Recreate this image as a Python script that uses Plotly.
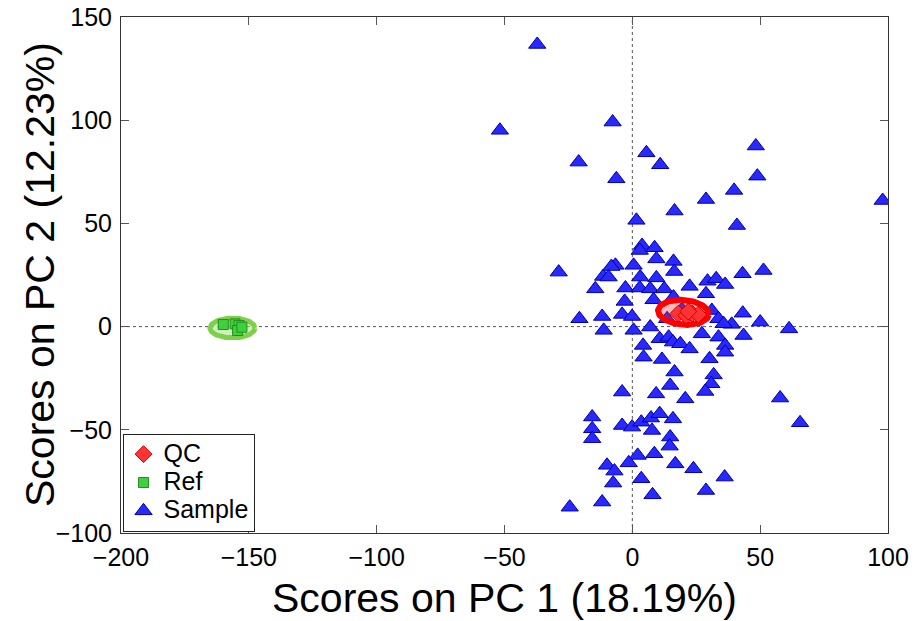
import numpy as np
import plotly.graph_objects as go

# PCA scores, sample group
sample_pc1 = [
    -37.2, -51.8, -7.7, -21.0, -6.25, 5.5, 10.9, 48.3, 48.9, 39.8, 28.8, 16.5, 40.9, 1.6, 97.9,
    3.8, 2.9, 8.7, 9.4, 16.1, 16.4, -6.6, -8.2, 0.5, -11.4, -9.3, 3.1, 9.4, -2.7, -14.5,
    2.9, 7.0, 12.5, 22.4, -3.0, 8.3, -28.8, 29.4, 32.8, 36.3, 28.8, 43.1, 51.3, 16.1, 31.1,
    33.7, 43.2, 50.0, 38.9, 35.7, 61.3, 27.2, 43.5, -4.0, -0.1, -11.8, -20.7, -11.2, 0.5, 7.0,
    19.4, 13.6, 4.2, 4.4, 10.7, 14.2, 15.9, 18.75, 22.4, 11.6, 16.5, 14.8, 9.3, -4.0, 20.7,
    33.7, 36.3, 36.3, 30.2, 31.8, 30.9, 28.5, 57.8, 65.6, -15.7, -15.7, -15.7, -4.0, -0.1, 3.5,
    7.3, 10.7, 15.9, 7.7, 14.8, 14.6, 8.6, 2.1, -1.4, -9.9, -7.0, -7.5, 3.5, 16.8, 23.9,
    36.1, 28.8, 7.9, -11.8, -24.5,
]
sample_pc2 = [
    136.7, 95.1, 99.1, 79.7, 71.6, 84.2, 78.4, 87.5, 72.9, 66.0, 61.6, 56.0, 49.0, 51.5, 61.1,
    39.3, 36.9, 38.2, 32.8, 31.6, 26.7, 29.7, 29.1, 29.7, 24.3, 24.0, 24.0, 23.6, 18.7, 18.3,
    18.7, 18.3, 18.3, 19.5, 12.2, 13.0, 26.4, 22.0, 23.2, 20.4, 15.9, 25.6, 27.2, 14.3, 7.8,
    3.8, 6.5, 2.2, 1.1, 1.4, -1.1, -3.5, -4.3, 5.9, 4.9, 4.9, 3.8, -1.8, -1.8, -0.2,
    8.3, 3.8, -9.1, -14.8, -5.9, -5.1, -7.5, -8.3, -10.8, -15.9, -22.0, -28.5, -32.6, -31.7, -35.0,
    -5.1, -9.1, -12.4, -15.6, -23.4, -27.7, -31.4, -34.6, -46.6, -43.8, -49.5, -54.3, -47.9, -48.7, -46.3,
    -44.3, -42.2, -44.7, -50.3, -53.5, -57.9, -61.6, -62.4, -66.0, -67.2, -70.0, -75.8, -73.7, -66.5, -68.9,
    -72.9, -79.4, -81.5, -85.0, -87.5,
]

# QC injections
qc_pc1 = [18.0, 21.1, 23.4, 25.8, 21.9]
qc_pc2 = [6.3, 5.3, 6.3, 5.8, 7.3]

# Reference standards
ref_pc1 = [-160.0, -155.4, -153.8, -154.4, -152.7]
ref_pc2 = [1.0, 1.3, 0.5, -1.9, -0.3]

# Group ellipses: centre x, centre y, semi-axis x, semi-axis y, tilt (deg)
qc_ellipse = [20.0, 6.9, 10.0, 6.0, -7.0]
ref_ellipse = [-156.4, -0.7, 8.8, 4.8, 0.0]

x_ticks = [-200, -150, -100, -50, 0, 50, 100]
y_ticks = [-100, -50, 0, 50, 100, 150]

FONT = "Arial, Liberation Sans, sans-serif"


def legend_name(s):
    return "<span style='font-size:25px'>%s</span>" % s


def ellipse_xy(params, n=200):
    cx, cy, a, b, tilt = params
    t = np.linspace(0, 2 * np.pi, n)
    th = np.deg2rad(tilt)
    x = cx + a * np.cos(t) * np.cos(th) - b * np.sin(t) * np.sin(th)
    y = cy + a * np.cos(t) * np.sin(th) + b * np.sin(t) * np.cos(th)
    return x, y


fig = go.Figure()

fig.add_trace(go.Scatter(
    x=sample_pc1, y=sample_pc2, mode="markers", name=legend_name("Sample"), legendrank=3,
    marker=dict(symbol="triangle-up", size=15, color="#2828ff",
                line=dict(color="#0000a8", width=1)),
))

ex, ey = ellipse_xy(qc_ellipse)
fig.add_trace(go.Scatter(
    x=ex, y=ey, mode="lines", fill="toself", showlegend=False, hoverinfo="skip",
    fillcolor="rgba(255,40,40,0.32)", line=dict(color="#ff0000", width=6),
))
rx, ry = ellipse_xy(ref_ellipse)
fig.add_trace(go.Scatter(
    x=rx, y=ry, mode="lines", fill="toself", showlegend=False, hoverinfo="skip",
    fillcolor="rgba(170,225,130,0.55)", line=dict(color="#80cf4c", width=5),
))

fig.add_trace(go.Scatter(
    x=qc_pc1, y=qc_pc2, mode="markers", name=legend_name("QC"), legendrank=1,
    marker=dict(symbol="diamond", size=13, color="#ff3333",
                line=dict(color="#d00000", width=1)),
))
fig.add_trace(go.Scatter(
    x=ref_pc1, y=ref_pc2, mode="markers", name=legend_name("Ref"), legendrank=2,
    marker=dict(symbol="square", size=10, color="#3fcf3f",
                line=dict(color="#1f8f1f", width=1)),
))

# dashed origin lines
for shp in (
    dict(type="line", xref="x", yref="paper", x0=0, x1=0, y0=0, y1=1),
    dict(type="line", xref="paper", yref="y", x0=0, x1=1, y0=0, y1=0),
):
    fig.add_shape(**shp, line=dict(color="#555555", width=1, dash="3px,3px"), layer="below")

axis_common = dict(
    showgrid=False, zeroline=False, showline=True, linecolor="#333333", linewidth=1,
    mirror="ticks", ticks="inside", ticklen=8, tickcolor="#555555", automargin=False,
    tickfont=dict(family=FONT, size=25, color="black"),
)

fig.update_layout(
    width=919, height=621,
    margin=dict(l=121, r=31, t=17, b=88),
    paper_bgcolor="white", plot_bgcolor="white",
    xaxis=dict(range=[-200, 100], tickvals=x_ticks, ticklabelstandoff=2, **axis_common),
    yaxis=dict(range=[-100, 150], tickvals=y_ticks, ticklabelstandoff=3, **axis_common),
    showlegend=True,
    legend=dict(
        x=0.002, y=0.002, xanchor="left", yanchor="bottom",
        bgcolor="white", bordercolor="#222222", borderwidth=1,
        font=dict(family=FONT, size=19.5, color="black"),
        tracegroupgap=0,
    ),
    annotations=[
        dict(text="Scores on PC 1 (18.19%)", xref="paper", yref="paper",
             x=0.5, y=-0.126, xanchor="center", yanchor="middle", showarrow=False,
             font=dict(family=FONT, size=41, color="black")),
        dict(text="Scores on PC 2 (12.23%)", xref="paper", yref="paper",
             x=-0.1056, y=0.5, xanchor="center", yanchor="middle", showarrow=False,
             textangle=-90, font=dict(family=FONT, size=41, color="black")),
    ],
)

fig.write_html("out.html")
